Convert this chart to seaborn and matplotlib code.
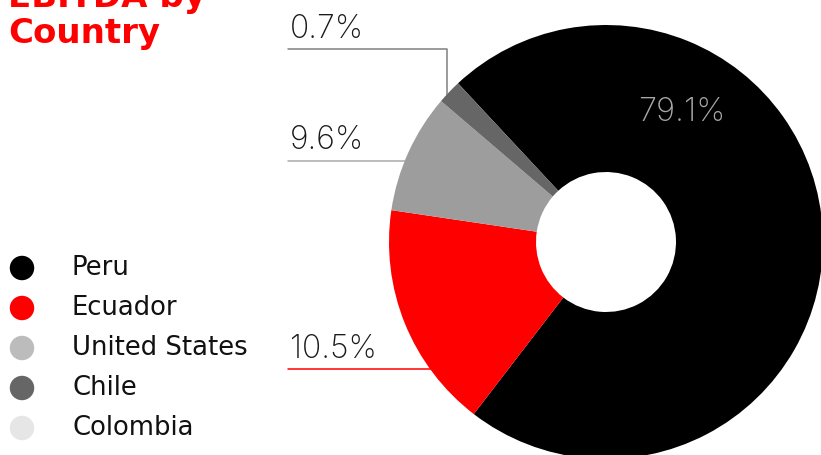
import matplotlib
matplotlib.use("Agg")
import matplotlib.pyplot as plt
import seaborn as sns
import pandas as pd

sns.set_theme(style="white")
plt.rcParams["font.family"] = ["Inter", "DejaVu Sans"]

# data
countries = ["Peru", "Ecuador", "United States", "Chile", "Colombia"]
share_labels = ["79.1%", "10.5%", "9.6%", "0.7%", ""]
# wedge sizes as drawn in the reference (measured arc, in %)
wedge_share = [72.3, 16.9, 8.9, 1.8, 0.0]
pie_colors = ["#000000", "#ff0000", "#9d9d9d", "#666666", "#e6e6e6"]
legend_colors = ["#000000", "#ff0000", "#bcbcbc", "#666666", "#e6e6e6"]

W, H = 821, 455
fig = plt.figure(figsize=(W / 100, H / 100), dpi=100)

# overlay in pixel coords for title, legend and leader lines
ov = fig.add_axes([0, 0, 1, 1])

leg = pd.DataFrame({"country": countries,
                    "x": [22] * 5,
                    "y": [268 + i * 40 for i in range(5)]})
sns.scatterplot(data=leg, x="x", y="y", hue="country", palette=legend_colors,
                s=310, linewidth=0, legend=False, ax=ov)
ov.set_xlim(0, W)
ov.set_ylim(H, 0)
ov.axis("off")

ov.text(8, 7, "EBITDA by", color="#ff0000", fontsize=24.5, fontweight="bold",
        family="DejaVu Sans", va="baseline")
ov.text(8, 43, "Country", color="#ff0000", fontsize=24.5, fontweight="bold",
        family="DejaVu Sans", va="baseline")

for i, name in enumerate(countries):
    ov.text(72, 268 + i * 40, name, fontsize=18.6, color="#111111",
            family="DejaVu Sans", va="center")

# outside labels with leader lines
ov.text(290, 38, share_labels[3], fontsize=23, color="#1a1a1a", fontweight="light")
ov.plot([288, 446.5, 446.5], [49, 49, 95], color="#808080", lw=1.1)
ov.text(290, 149, share_labels[2], fontsize=23, color="#1a1a1a", fontweight="light")
ov.plot([288, 405], [161, 161], color="#aaaaaa", lw=1.1)
ov.text(290, 358, share_labels[1], fontsize=23, color="#1a1a1a", fontweight="light")
ov.plot([288, 431], [369, 369], color="#ff0000", lw=1.1)

# donut
cx, cy, r, r_in = 606, 242, 217, 70
ax = fig.add_axes([(cx - r) / W, (H - cy - r) / H, 2 * r / W, 2 * r / H])
ax.pie(wedge_share, colors=pie_colors, startangle=133, counterclock=False,
       radius=1, wedgeprops=dict(width=1 - r_in / r, linewidth=0))
ax.set_xlim(-1, 1)
ax.set_ylim(-1, 1)
ax.axis("off")
ax.text(0.35, 0.597, share_labels[0], fontsize=23.5, color="#a8a8a8",
        fontweight="light", ha="center", va="center")

fig.savefig("out.png", dpi=100)
